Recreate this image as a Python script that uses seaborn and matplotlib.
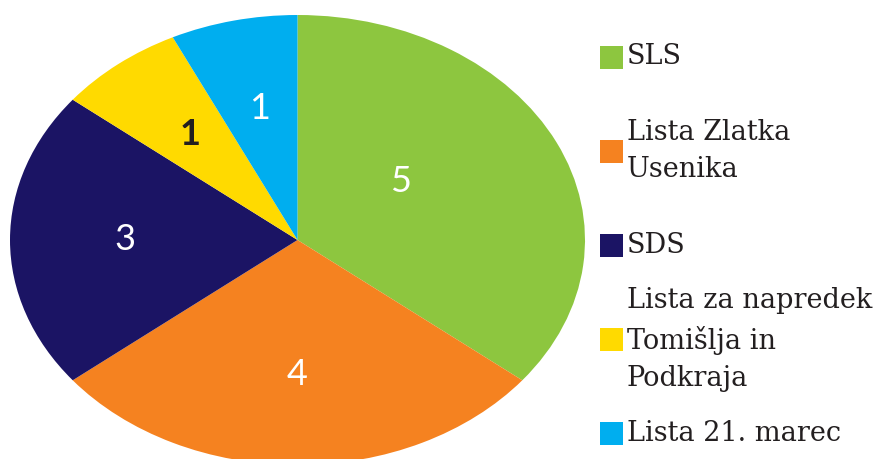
import matplotlib.pyplot as plt
import matplotlib.patches as mpatches
import seaborn as sns

# seats per list
parties = ['SLS', 'Lista Zlatka\nUsenika', 'SDS',
           'Lista za napredek\nTomišlja in\nPodkraja', 'Lista 21. marec']
seats = [5, 4, 3, 1, 1]
colors = ['#8DC63F', '#F58220', '#1B1464', '#FFDA00', '#00AEEF']
label_colors = ['white', 'white', 'white', '#231F20', 'white']

sns.set_theme(style='white')
plt.rcParams['font.family'] = ['Lato', 'DejaVu Sans']

fig = plt.figure(figsize=(8.81, 4.59), dpi=100)
# stretched axes so the pie comes out as an ellipse
ax = fig.add_axes([10 / 881, -6 / 459, 575 / 881, 450 / 459])
wedges, texts = ax.pie(seats, colors=colors, startangle=90, counterclock=False,
                       labels=[str(s) for s in seats], labeldistance=0.6,
                       wedgeprops=dict(linewidth=0),
                       textprops=dict(fontsize=26))
ax.set_aspect('auto')
ax.set_xlim(-1, 1)
ax.set_ylim(-1, 1)
ax.axis('off')
for t, c in zip(texts, label_colors):
    t.set_color(c)
    t.set_ha('center')
    t.set_va('center')
texts[3].set_fontweight('bold')
# the big slice label sits a bit higher in the original
texts[0].set_position((0.36, 0.26))

# legend on the right, evenly spaced rows
for i, (name, col) in enumerate(zip(parties, colors)):
    yc = 1 - (57 + i * 94.2) / 459
    fig.patches.append(mpatches.Rectangle((600 / 881, yc - 11.5 / 459), 23 / 881, 23 / 459,
                                          transform=fig.transFigure, color=col, lw=0))
    fig.text(627 / 881, yc, name, ha='left', va='center', fontsize=19.5,
             family=['DejaVu Serif'], color='#231F20', linespacing=1.5)

fig.savefig('out.png', dpi=100)
